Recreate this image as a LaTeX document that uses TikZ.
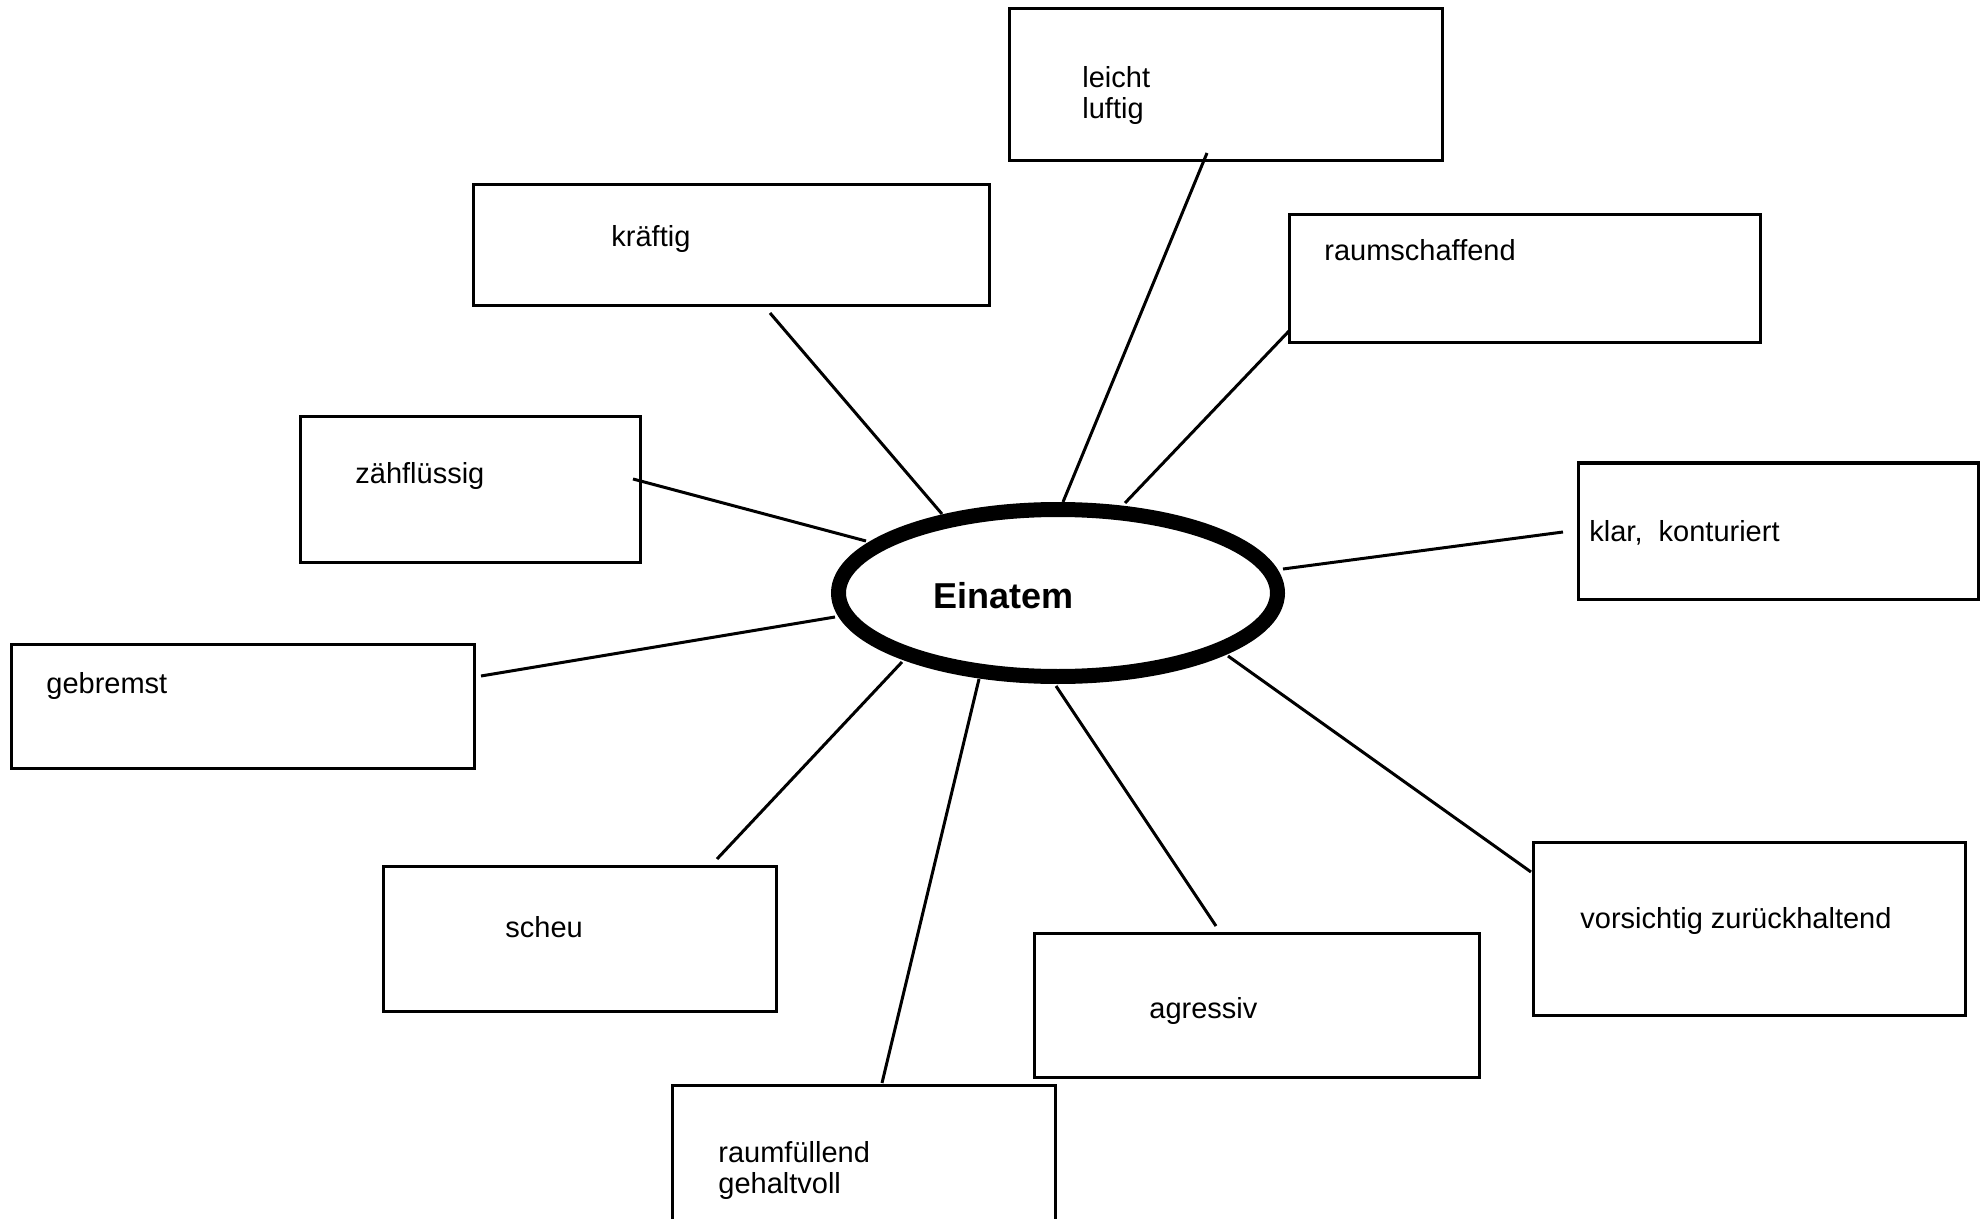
\documentclass[tikz,border=0pt]{standalone}
\usepackage{fontspec}
\setmainfont{Liberation Sans}
\usetikzlibrary{shapes.geometric}
\tikzset{
  field/.style={draw, line width=1.5pt, inner sep=0pt, rectangle},
  word/.style={anchor=base west, inner sep=0pt, font=\fontsize{14.5}{15.5}\selectfont, align=left},
  spoke/.style={line width=1.5pt},
  hub/.style={draw, ellipse, line width=7.5pt, inner sep=0pt, fill=white},
}
\begin{document}
\begin{tikzpicture}[x=0.5pt,y=-0.5pt]
  \useasboundingbox (0,0) rectangle (1986,1219);
  \clip (0,0) rectangle (1986,1219);

  % boxes around the centre
  \node[field, minimum width=216.5pt, minimum height=76pt]   (leicht)   at (1225.5,85)   {};
  \node[field, minimum width=258pt,   minimum height=60.5pt] (kraeftig) at (731,245.5)   {};
  \node[field, minimum width=235.5pt, minimum height=64pt]   (raum)     at (1524.5,279)  {};
  \node[field, minimum width=170pt,   minimum height=72.5pt] (zaeh)     at (470,489.5)   {};
  \node[field, minimum width=200pt,   minimum height=68pt]   (klar)     at (1778,531)    {};
  \node[field, minimum width=231.5pt, minimum height=62pt]   (gebremst) at (242.5,706)   {};
  \node[field, minimum width=196.5pt, minimum height=72.5pt] (scheu)    at (579.5,938.5) {};
  \node[field, minimum width=222.5pt, minimum height=72pt]   (agressiv) at (1256.5,1005) {};
  \node[field, minimum width=216pt,   minimum height=86.5pt] (vorsicht) at (1749,928.5)  {};
  \node[field, minimum width=191.5pt, minimum height=107.5pt](fuell)    at (863.5,1192.5){};

  % labels (multi-line ones are anchored on their last baseline)
  \node[word] (tleicht)   at (1082,119) {leicht\\luftig};
  \node[word] (tkraeftig) at (611,247)  {kräftig};
  \node[word] (traum)     at (1324,261) {raumschaffend};
  \node[word] (tzaeh)     at (355,483)  {zähflüssig};
  \node[word] (tklar)     at (1589,541) {klar,\ \ konturiert};
  \node[word] (tgebremst) at (46,693)   {gebremst};
  \node[word] (tscheu)    at (505,937)  {scheu};
  \node[word] (tagressiv) at (1149,1018){agressiv};
  \node[word] (tvorsicht) at (1580,928) {vorsichtig zurückhaltend};
  \node[word] (tfuell)    at (718,1193) {raumfüllend\\gehaltvoll};

  % spoke end points
  \coordinate (a1) at (770,313);   \coordinate (b1) at (942,514);
  \coordinate (a2) at (1207,153);  \coordinate (b2) at (1063,502);
  \coordinate (a3) at (1289,331);  \coordinate (b3) at (1125,503);
  \coordinate (a4) at (633,479);   \coordinate (b4) at (866,541);
  \coordinate (a5) at (1563,532);  \coordinate (b5) at (1283,569);
  \coordinate (a6) at (481,676);   \coordinate (b6) at (835,617);
  \coordinate (a7) at (717,859);   \coordinate (b7) at (902,662);
  \coordinate (a8) at (882,1083);  \coordinate (b8) at (979,679);
  \coordinate (a9) at (1216,926);  \coordinate (b9) at (1056,686);
  \coordinate (a10) at (1531,872); \coordinate (b10) at (1228,656);

  \foreach \i in {1,...,10} { \draw[spoke] (a\i) -- (b\i); }

  % central ellipse
  \node[hub, minimum width=219.5pt, minimum height=83.5pt] (ein) at (1058,593) {};
  \node[anchor=base west, inner sep=0pt, font=\fontsize{18}{20}\selectfont\bfseries] (tein) at (933,608) {Einatem};
\end{tikzpicture}
\end{document}
